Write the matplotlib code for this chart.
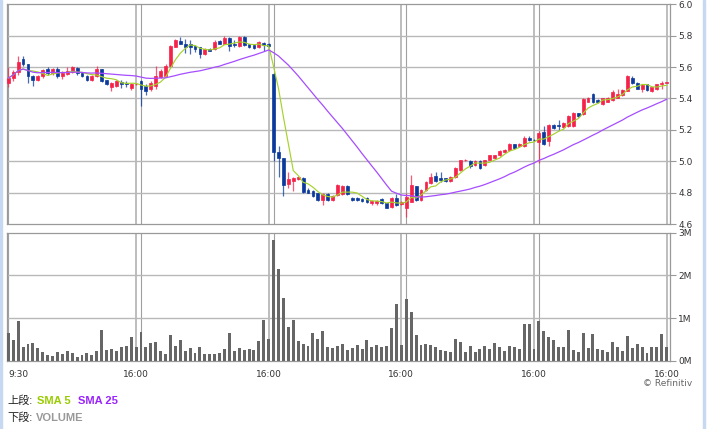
import matplotlib.pyplot as plt
import numpy as np
import pandas as pd

# 15-minute bars, 27 per day (9:30 ... 16:00), five days
opens = [5.50, 5.53, 5.57, 5.65, 5.62, 5.545, 5.52, 5.54, 5.59, 5.56, 5.585, 5.54, 5.555, 5.57,
         5.595, 5.565, 5.545, 5.515, 5.54, 5.585, 5.515, 5.47, 5.48, 5.505, 5.50, 5.465, 5.49,
         5.51, 5.48, 5.46, 5.48, 5.535, 5.545, 5.61, 5.73, 5.765, 5.75, 5.745, 5.735, 5.725, 5.685,
         5.715, 5.715, 5.768, 5.75, 5.785, 5.75, 5.735, 5.79, 5.745, 5.742, 5.725, 5.753, 5.75,
         5.555, 5.06, 5.02, 4.853, 4.874, 4.887, 4.896, 4.817, 4.81, 4.795, 4.753, 4.79, 4.753,
         4.785, 4.79, 4.845, 4.768, 4.768, 4.76, 4.764, 4.736, 4.734, 4.76, 4.732, 4.71, 4.764, 4.728,
         4.70, 4.743, 4.842, 4.75, 4.817, 4.86, 4.905, 4.89, 4.89, 4.876, 4.90, 4.943, 5.006, 5.002,
         4.975, 5.002, 4.975, 5.01, 5.023, 5.038, 5.06, 5.07, 5.107, 5.095, 5.095, 5.15, 5.137,
         5.12, 5.185, 5.126, 5.23, 5.23, 5.217, 5.227, 5.223, 5.307, 5.30, 5.38, 5.427, 5.39, 5.364,
         5.38, 5.39, 5.406, 5.42, 5.448, 5.533, 5.50, 5.463, 5.49, 5.448, 5.46, 5.49, 5.50]
highs = [5.60, 5.58, 5.67, 5.67, 5.62, 5.55, 5.55, 5.59, 5.60, 5.595, 5.60, 5.575, 5.60, 5.61,
         5.60, 5.57, 5.55, 5.55, 5.605, 5.59, 5.52, 5.505, 5.52, 5.515, 5.51, 5.50, 5.50,
         5.52, 5.49, 5.51, 5.61, 5.585, 5.62, 5.74, 5.78, 5.79, 5.78, 5.775, 5.74, 5.73, 5.72,
         5.72, 5.77, 5.775, 5.795, 5.79, 5.775, 5.80, 5.80, 5.75, 5.745, 5.765, 5.76, 5.755,
         5.56, 5.10, 5.02, 4.93, 4.90, 4.90, 4.90, 4.83, 4.815, 4.80, 4.80, 4.795, 4.785,
         4.855, 4.85, 4.85, 4.775, 4.77, 4.765, 4.77, 4.755, 4.75, 4.765, 4.735, 4.775, 4.79, 4.745,
         4.80, 4.91, 4.845, 4.82, 4.875, 4.927, 4.93, 4.93, 4.895, 4.905, 4.965, 5.01, 5.015, 5.005,
         5.01, 5.005, 5.01, 5.04, 5.04, 5.07, 5.08, 5.115, 5.11, 5.115, 5.16, 5.16, 5.14,
         5.19, 5.227, 5.235, 5.235, 5.265, 5.25, 5.295, 5.315, 5.31, 5.40, 5.41, 5.434, 5.395, 5.405,
         5.41, 5.455, 5.46, 5.46, 5.547, 5.54, 5.505, 5.495, 5.495, 5.475, 5.495, 5.51, 5.505]
lows = [5.47, 5.51, 5.55, 5.61, 5.50, 5.48, 5.51, 5.53, 5.55, 5.55, 5.53, 5.525, 5.55, 5.565,
        5.55, 5.535, 5.51, 5.51, 5.535, 5.505, 5.485, 5.45, 5.475, 5.465, 5.47, 5.455, 5.485,
        5.35, 5.42, 5.45, 5.46, 5.53, 5.54, 5.60, 5.725, 5.745, 5.69, 5.685, 5.695, 5.66, 5.68,
        5.70, 5.71, 5.745, 5.745, 5.705, 5.73, 5.73, 5.735, 5.72, 5.715, 5.72, 5.70, 5.73,
        5.00, 4.90, 4.78, 4.83, 4.81, 4.88, 4.80, 4.795, 4.775, 4.745, 4.72, 4.745, 4.745,
        4.78, 4.785, 4.785, 4.745, 4.745, 4.74, 4.735, 4.72, 4.72, 4.725, 4.70, 4.705, 4.715, 4.72,
        4.645, 4.74, 4.745, 4.745, 4.81, 4.855, 4.87, 4.87, 4.87, 4.87, 4.895, 4.94, 5.00, 4.954,
        4.97, 4.95, 4.97, 5.005, 5.02, 5.035, 5.055, 5.065, 5.08, 5.09, 5.09, 5.13, 5.13,
        4.99, 5.105, 5.10, 5.205, 5.20, 5.21, 5.22, 5.22, 5.285, 5.295, 5.375, 5.37, 5.37, 5.36,
        5.375, 5.385, 5.40, 5.415, 5.445, 5.495, 5.46, 5.44, 5.45, 5.44, 5.455, 5.463, 5.498]
closes = [5.53, 5.57, 5.63, 5.62, 5.54, 5.515, 5.54, 5.58, 5.56, 5.585, 5.545, 5.56, 5.575, 5.60,
          5.56, 5.54, 5.515, 5.545, 5.585, 5.51, 5.49, 5.50, 5.51, 5.49, 5.49, 5.495, 5.495,
          5.46, 5.45, 5.50, 5.54, 5.575, 5.61, 5.735, 5.77, 5.75, 5.725, 5.725, 5.715, 5.685, 5.715,
          5.705, 5.757, 5.75, 5.785, 5.735, 5.74, 5.79, 5.74, 5.725, 5.72, 5.757, 5.74, 5.737,
          5.057, 5.02, 4.85, 4.887, 4.89, 4.897, 4.806, 4.80, 4.78, 4.753, 4.79, 4.753, 4.78,
          4.85, 4.843, 4.79, 4.753, 4.75, 4.747, 4.74, 4.747, 4.747, 4.732, 4.704, 4.768, 4.72, 4.74,
          4.77, 4.848, 4.75, 4.817, 4.87, 4.90, 4.876, 4.88, 4.876, 4.90, 4.96, 5.006, 5.01, 4.968,
          5.002, 4.954, 5.006, 5.038, 5.038, 5.065, 5.074, 5.107, 5.086, 5.11, 5.15, 5.133, 5.133,
          5.18, 5.11, 5.23, 5.21, 5.223, 5.244, 5.29, 5.31, 5.29, 5.396, 5.406, 5.375, 5.375, 5.40,
          5.406, 5.44, 5.427, 5.455, 5.543, 5.50, 5.463, 5.484, 5.455, 5.47, 5.49, 5.50, 5.503]
volumes = [0.66, 0.48, 0.92, 0.33, 0.40, 0.42, 0.29, 0.20, 0.125, 0.10, 0.20, 0.15, 0.22, 0.17,
           0.09, 0.125, 0.17, 0.125, 0.22, 0.73, 0.24, 0.27, 0.22, 0.33, 0.35, 0.55, 0.31,
           0.67, 0.31, 0.42, 0.45, 0.22, 0.15, 0.60, 0.35, 0.48, 0.22, 0.29, 0.18, 0.31, 0.15,
           0.15, 0.15, 0.17, 0.27, 0.65, 0.22, 0.29, 0.24, 0.27, 0.24, 0.47, 0.95, 0.51,
           2.82, 2.15, 1.46, 0.79, 0.95, 0.47, 0.40, 0.35, 0.65, 0.51, 0.70, 0.31, 0.29,
           0.35, 0.40, 0.24, 0.29, 0.375, 0.27, 0.48, 0.31, 0.375, 0.31, 0.34, 0.76, 1.32, 0.375,
           1.45, 1.14, 0.60, 0.375, 0.40, 0.375, 0.31, 0.24, 0.22, 0.20, 0.51, 0.45, 0.20, 0.35,
           0.20, 0.27, 0.35, 0.27, 0.42, 0.31, 0.22, 0.35, 0.31, 0.27, 0.85, 0.85, 0.27,
           0.94, 0.70, 0.55, 0.48, 0.31, 0.31, 0.73, 0.24, 0.20, 0.65, 0.29, 0.625, 0.27, 0.24,
           0.20, 0.45, 0.33, 0.22, 0.58, 0.29, 0.40, 0.33, 0.17, 0.33, 0.33, 0.625, 0.31]

tick_labels = ["9:30", "16:00", "16:00", "16:00", "16:00", "16:00"]
bars_per_day = 27

up_col = "#f5224a"
down_col = "#0b3a9c"
grid_col = "#b8b8b8"

o = np.array(opens)
h = np.array(highs)
l = np.array(lows)
c = np.array(closes)
x = np.arange(len(c))
sma5 = pd.Series(c).rolling(5, min_periods=1).mean()
sma25 = pd.Series(c).rolling(25, min_periods=1).mean()

W, H = 708, 429
fig = plt.figure(figsize=(W / 100, H / 100), dpi=100)
ax = fig.add_axes([7 / W, 1 - 224 / H, 663 / W, (224 - 4.3) / H])
axv = fig.add_axes([7 / W, 1 - 360.7 / H, 663 / W, (360.7 - 232.7) / H])

day_ends = list(range(bars_per_day - 1, len(c), bars_per_day))
day_starts = list(range(0, len(c), bars_per_day))

for a in (ax, axv):
    a.set_xlim(-0.27, 134.68)
    for s in a.spines.values():
        s.set_color("#999999")
        s.set_linewidth(0.9)
    for xe in day_ends:
        a.axvline(xe, color="#b8b8b8", lw=1.3, zorder=0)
    for xs in day_starts:
        a.axvline(xs, color="#a0a0a0", lw=0.8, zorder=0)
    a.yaxis.tick_right()
    a.tick_params(axis="y", direction="out", length=4, width=0.8, color="#999999",
                  labelsize=6.5, labelcolor="#333333", pad=2)

# price panel
ax.set_ylim(4.6, 6.0)
yt = np.arange(4.6, 6.01, 0.2)
ax.set_yticks(yt)
ax.set_yticklabels([f"{v:.1f}" for v in yt])
for v in yt[1:-1]:
    ax.axhline(v, color=grid_col, lw=1.0, zorder=0)
ax.tick_params(axis="x", bottom=False, labelbottom=False)

cols = np.where(c >= o, up_col, down_col)
ax.vlines(x, l, h, colors=cols, lw=0.9, alpha=0.75, zorder=2)
ax.bar(x, np.abs(c - o), bottom=np.minimum(o, c), width=0.58, color=cols,
       edgecolor=cols, linewidth=0.5, zorder=3)
ax.plot(x, sma5, color="#a6d22e", lw=0.85, zorder=4)
ax.plot(x, sma25, color="#a64dff", lw=0.9, zorder=4)

# volume panel
axv.set_ylim(0, 3)
axv.set_yticks([0, 1, 2, 3])
axv.set_yticklabels(["0M", "1M", "2M", "3M"])
for v in (1, 2):
    axv.axhline(v, color=grid_col, lw=1.0, zorder=0)
axv.bar(x, volumes, width=0.6, color="#666666", zorder=3)
axv.set_xticks([0] + day_ends)
axv.set_xticklabels(tick_labels)
axv.tick_params(axis="x", length=0, labelsize=6.5, labelcolor="#333333", pad=7)
axv.get_xticklabels()[0].set_horizontalalignment("left")

# footer texts
fig.text(692 / W, 1 - 384 / H, "© Refinitiv", ha="right", va="center", fontsize=6.5,
         color="#666666")
fam = ["Liberation Sans", "Noto Sans CJK JP"]
fig.text(7 / W, 1 - 401 / H, "上段:", ha="left", va="center", fontsize=8, family=fam,
         color="#222222")
fig.text(37 / W, 1 - 401 / H, "SMA 5", ha="left", va="center", fontsize=8, family=fam,
         color="#99cc00", weight="bold")
fig.text(78 / W, 1 - 401 / H, "SMA 25", ha="left", va="center", fontsize=8, family=fam,
         color="#9922ff", weight="bold")
fig.text(7 / W, 1 - 418 / H, "下段:", ha="left", va="center", fontsize=8, family=fam,
         color="#222222")
fig.text(36 / W, 1 - 418 / H, "VOLUME", ha="left", va="center", fontsize=8, family=fam,
         color="#999999", weight="bold")

# page borders of the screenshot
fig.patches.append(plt.Rectangle((0, 0), 2 / W, 1, transform=fig.transFigure,
                                 color="#c6d9f0", zorder=0))
fig.patches.append(plt.Rectangle((703 / W, 0), 2 / W, 1, transform=fig.transFigure,
                                 color="#c6d9f0", zorder=0))

fig.savefig("out.png", dpi=100)
